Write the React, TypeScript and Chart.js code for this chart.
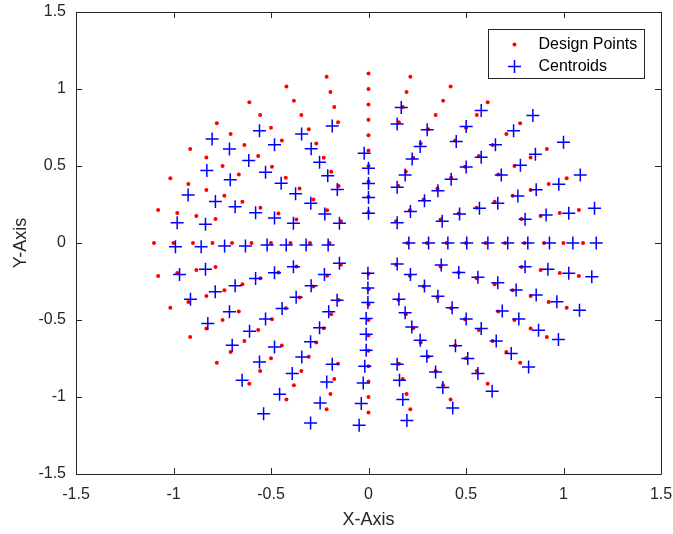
import React, { useEffect, useRef } from 'react';
import { Chart, registerables } from 'chart.js';

Chart.register(...registerables);

// ---------- axis ticks ----------
const xTickValues = [-1.5, -1, -0.5, 0, 0.5, 1, 1.5];
const xTickLabels = ['-1.5', '-1', '-0.5', '0', '0.5', '1', '1.5'];
const yTickValues = [-1.5, -1, -0.5, 0, 0.5, 1, 1.5];
const yTickLabels = ['-1.5', '-1', '-0.5', '0', '0.5', '1', '1.5'];

// ---------- design points (polar grid) ----------
const majorRayAngles = [0, 45, 90, 135, 180, 225, 270, 315];
const majorRayRadii = [0.2, 0.3, 0.4, 0.5, 0.6, 0.7, 0.8, 0.9, 1.0, 1.1];
const midRayAngles = [22.5, 67.5, 112.5, 157.5, 202.5, 247.5, 292.5, 337.5];
const midRayRadii = [0.4, 0.5, 0.6, 0.7, 0.8, 0.9, 1.0, 1.1];
const minorRayAngles = [11.25, 33.75, 56.25, 78.75, 101.25, 123.75, 146.25, 168.75,
  191.25, 213.75, 236.25, 258.75, 281.25, 303.75, 326.25, 348.75];
const minorRayRadii = [0.8, 0.9, 1.0, 1.1];

// ---------- centroids ----------
const centroidsPosX = [[0.207, 0], [0.308, 0], [0.407, 0], [0.504, 0], [0.612, 0], [0.714, 0], [0.817, 0], [0.928, 0], [1.048, 0], [1.168, 0]];
const centroidsNegX = [[-0.99, -0.025], [-0.858, -0.025], [-0.738, -0.02], [-0.631, -0.02], [-0.52, -0.013], [-0.422, -0.013], [-0.32, -0.013], [-0.207, -0.013]];
const centroidsPosY = [[-0.022, 0.582], [0, 0.485], [0, 0.386], [0, 0.295], [0, 0.193]];
const centroidsNegY = [[-0.003, -0.197], [-0.003, -0.292], [-0.003, -0.386], [-0.012, -0.49], [-0.012, -0.592], [-0.012, -0.696], [-0.019, -0.8], [-0.027, -0.909], [-0.037, -1.043], [-0.048, -1.184]];
const centroidsUpperRight = [
  [0.168, 0.88], [0.147, 0.772],
  [0.301, 0.735], [0.265, 0.627], [0.224, 0.545], [0.188, 0.442], [0.147, 0.362],
  [0.578, 0.861], [0.501, 0.757], [0.45, 0.659],
  [0.843, 0.828], [0.744, 0.729], [0.651, 0.638], [0.578, 0.557], [0.501, 0.493], [0.424, 0.414], [0.356, 0.34], [0.287, 0.275], [0.215, 0.204], [0.147, 0.132],
  [1.0, 0.655], [0.856, 0.577], [0.779, 0.505], [0.681, 0.442],
  [1.086, 0.442], [0.976, 0.382], [0.86, 0.345], [0.766, 0.306], [0.663, 0.258], [0.569, 0.226], [0.467, 0.189], [0.378, 0.141],
  [1.159, 0.226], [1.027, 0.193], [0.911, 0.182], [0.803, 0.154],
];
const centroidsUpperLeft = [
  [-0.186, 0.759],
  [-0.559, 0.729], [-0.482, 0.638],
  [-0.343, 0.708], [-0.294, 0.612], [-0.251, 0.525], [-0.209, 0.436], [-0.16, 0.347],
  [-0.802, 0.675], [-0.713, 0.61], [-0.614, 0.536], [-0.528, 0.46], [-0.448, 0.388], [-0.374, 0.319], [-0.296, 0.258], [-0.224, 0.189], [-0.149, 0.128],
  [-0.829, 0.47], [-0.709, 0.41],
  [-0.925, 0.312], [-0.785, 0.269], [-0.684, 0.236], [-0.579, 0.197], [-0.482, 0.163], [-0.385, 0.128],
  [-0.981, 0.132], [-0.836, 0.122],
];
const centroidsLowerLeft = [
  [-0.969, -0.204], [-0.836, -0.171],
  [-0.913, -0.366], [-0.786, -0.317], [-0.684, -0.278], [-0.579, -0.23], [-0.482, -0.193], [-0.385, -0.154],
  [-0.824, -0.522], [-0.713, -0.447],
  [-0.699, -0.664], [-0.61, -0.573], [-0.528, -0.494], [-0.443, -0.425], [-0.371, -0.353], [-0.294, -0.278], [-0.226, -0.204], [-0.149, -0.132],
  [-0.648, -0.891], [-0.559, -0.772], [-0.482, -0.675],
  [-0.538, -1.108], [-0.456, -0.982], [-0.391, -0.848], [-0.342, -0.74], [-0.297, -0.642], [-0.251, -0.551], [-0.204, -0.447], [-0.161, -0.371],
  [-0.297, -1.169], [-0.248, -1.039], [-0.214, -0.902], [-0.186, -0.787],
];
const centroidsLowerRight = [
  [0.147, -0.137], [0.215, -0.204], [0.287, -0.28], [0.356, -0.345], [0.429, -0.421], [0.501, -0.494], [0.578, -0.555], [0.655, -0.636], [0.732, -0.718], [0.821, -0.805],
  [0.373, -0.143], [0.463, -0.191], [0.561, -0.223], [0.663, -0.258], [0.757, -0.306], [0.86, -0.338], [0.966, -0.382], [1.082, -0.436],
  [0.803, -0.154], [0.92, -0.171], [1.027, -0.197], [1.145, -0.219],
  [0.686, -0.442], [0.771, -0.494], [0.872, -0.566], [0.974, -0.627],
  [0.446, -0.668], [0.509, -0.75], [0.561, -0.848], [0.634, -0.963],
  [0.156, -0.366], [0.188, -0.453], [0.222, -0.545], [0.265, -0.631], [0.299, -0.735], [0.344, -0.837], [0.381, -0.939], [0.432, -1.071],
  [0.147, -0.787], [0.159, -0.891], [0.176, -1.017], [0.197, -1.152],
];

const seriesNames = ['Design Points', 'Centroids'];
const TEXT = '#262626';
const FONT = "'Liberation Sans', Arial, Helvetica, sans-serif";

function polarToXY(angles: number[], radii: number[]) {
  const out: { x: number; y: number }[] = [];
  angles.forEach((a) => {
    radii.forEach((r) => {
      const t = (a * Math.PI) / 180;
      out.push({ x: r * Math.cos(t), y: r * Math.sin(t) });
    });
  });
  return out;
}

const framePlugin = {
  id: 'matlabFrame',
  afterDraw(chart: any) {
    const { ctx, chartArea, scales } = chart;
    const { left, right, top, bottom } = chartArea;
    const xs = scales.x;
    const ys = scales.y;
    ctx.save();
    ctx.strokeStyle = TEXT;
    ctx.lineWidth = 1;
    ctx.beginPath();
    ctx.rect(Math.round(left) + 0.5, Math.round(top) + 0.5, Math.round(right - left), Math.round(bottom - top));
    ctx.stroke();
    const len = 6;
    ctx.beginPath();
    xTickValues.forEach((v) => {
      const px = Math.round(xs.getPixelForValue(v)) + 0.5;
      ctx.moveTo(px, bottom);
      ctx.lineTo(px, bottom - len);
      ctx.moveTo(px, top);
      ctx.lineTo(px, top + len);
    });
    yTickValues.forEach((v) => {
      const py = Math.round(ys.getPixelForValue(v)) + 0.5;
      ctx.moveTo(left, py);
      ctx.lineTo(left + len, py);
      ctx.moveTo(right, py);
      ctx.lineTo(right - len, py);
    });
    ctx.stroke();

    // legend box
    const lw = 156;
    const lh = 49;
    const lx = Math.round(right - 17 - lw) + 0.5;
    const ly = Math.round(top + 17) + 0.5;
    ctx.fillStyle = '#ffffff';
    ctx.fillRect(lx, ly, lw, lh);
    ctx.strokeStyle = TEXT;
    ctx.lineWidth = 1;
    ctx.strokeRect(lx, ly, lw, lh);
    // design marker
    ctx.fillStyle = '#ff0000';
    ctx.beginPath();
    ctx.arc(lx + 26, ly + 15, 2, 0, Math.PI * 2);
    ctx.fill();
    // centroid marker
    ctx.strokeStyle = '#0000ff';
    ctx.lineWidth = 1.5;
    ctx.beginPath();
    ctx.moveTo(lx + 26 - 6.5, ly + 37);
    ctx.lineTo(lx + 26 + 6.5, ly + 37);
    ctx.moveTo(lx + 26, ly + 37 - 6.5);
    ctx.lineTo(lx + 26, ly + 37 + 6.5);
    ctx.stroke();
    ctx.fillStyle = '#000000';
    ctx.font = `16px ${FONT}`;
    ctx.textBaseline = 'middle';
    ctx.textAlign = 'left';
    ctx.fillText(seriesNames[0], lx + 50, ly + 15);
    ctx.fillText(seriesNames[1], lx + 50, ly + 37);
    ctx.restore();
  },
};

function zeroPadding(scale: any) {
  scale.paddingTop = 0;
  scale.paddingBottom = 0;
  scale.paddingLeft = 0;
  scale.paddingRight = 0;
}

export default function App() {
  const canvasRef = useRef<HTMLCanvasElement | null>(null);

  useEffect(() => {
    if (!canvasRef.current) return;
    const designData = [
      ...polarToXY(majorRayAngles, majorRayRadii),
      ...polarToXY(midRayAngles, midRayRadii),
      ...polarToXY(minorRayAngles, minorRayRadii),
    ];
    const centroidData = [
      ...centroidsPosX, ...centroidsNegX, ...centroidsPosY, ...centroidsNegY,
      ...centroidsUpperRight, ...centroidsUpperLeft, ...centroidsLowerLeft, ...centroidsLowerRight,
    ].map(([x, y]) => ({ x, y }));

    const chart = new Chart(canvasRef.current, {
      type: 'scatter',
      data: {
        datasets: [
          {
            label: seriesNames[1],
            data: centroidData,
            pointStyle: 'cross',
            pointRadius: 6.5,
            pointBorderWidth: 1.5,
            borderColor: '#0000ff',
            backgroundColor: '#0000ff',
            pointHoverRadius: 6.5,
          },
          {
            label: seriesNames[0],
            data: designData,
            pointStyle: 'circle',
            pointRadius: 2,
            pointBorderWidth: 0,
            borderColor: '#ff0000',
            backgroundColor: '#ff0000',
            pointHoverRadius: 2,
          },
        ],
      },
      options: {
        animation: false,
        responsive: false,
        devicePixelRatio: 1,
        events: [],
        layout: { padding: { left: 0, right: 12, top: 12, bottom: 0 } },
        plugins: { legend: { display: false }, tooltip: { enabled: false } },
        scales: {
          x: {
            type: 'linear',
            min: -1.5,
            max: 1.5,
            grid: { display: false, drawTicks: false },
            border: { display: false },
            afterBuildTicks: (scale: any) => {
              scale.ticks = xTickValues.map((v) => ({ value: v }));
            },
            afterFit: (scale: any) => {
              scale.height = 60;
              zeroPadding(scale);
            },
            ticks: {
              autoSkip: false,
              maxRotation: 0,
              padding: 11,
              color: TEXT,
              font: { family: FONT, size: 16 },
              callback: (_v: any, i: number) => xTickLabels[i],
            },
            title: {
              display: true,
              text: 'X-Axis',
              color: TEXT,
              font: { family: FONT, size: 18 },
              padding: { top: 0, bottom: 3 },
            },
          },
          y: {
            type: 'linear',
            min: -1.5,
            max: 1.5,
            grid: { display: false, drawTicks: false },
            border: { display: false },
            afterBuildTicks: (scale: any) => {
              scale.ticks = yTickValues.map((v) => ({ value: v }));
            },
            afterFit: (scale: any) => {
              scale.width = 76;
              zeroPadding(scale);
            },
            ticks: {
              autoSkip: false,
              padding: 10,
              color: TEXT,
              font: { family: FONT, size: 16 },
              callback: (_v: any, i: number) => yTickLabels[i],
            },
            title: {
              display: true,
              text: 'Y-Axis',
              color: TEXT,
              font: { family: FONT, size: 18 },
              padding: { top: 10, bottom: 0 },
            },
          },
        },
      },
      plugins: [framePlugin],
    });
    return () => chart.destroy();
  }, []);

  return (
    <div style={{ position: 'absolute', left: 0, top: 0, width: 673, height: 534, background: '#fff' }}>
      <canvas ref={canvasRef} width={673} height={534} style={{ display: 'block' }} />
    </div>
  );
}
